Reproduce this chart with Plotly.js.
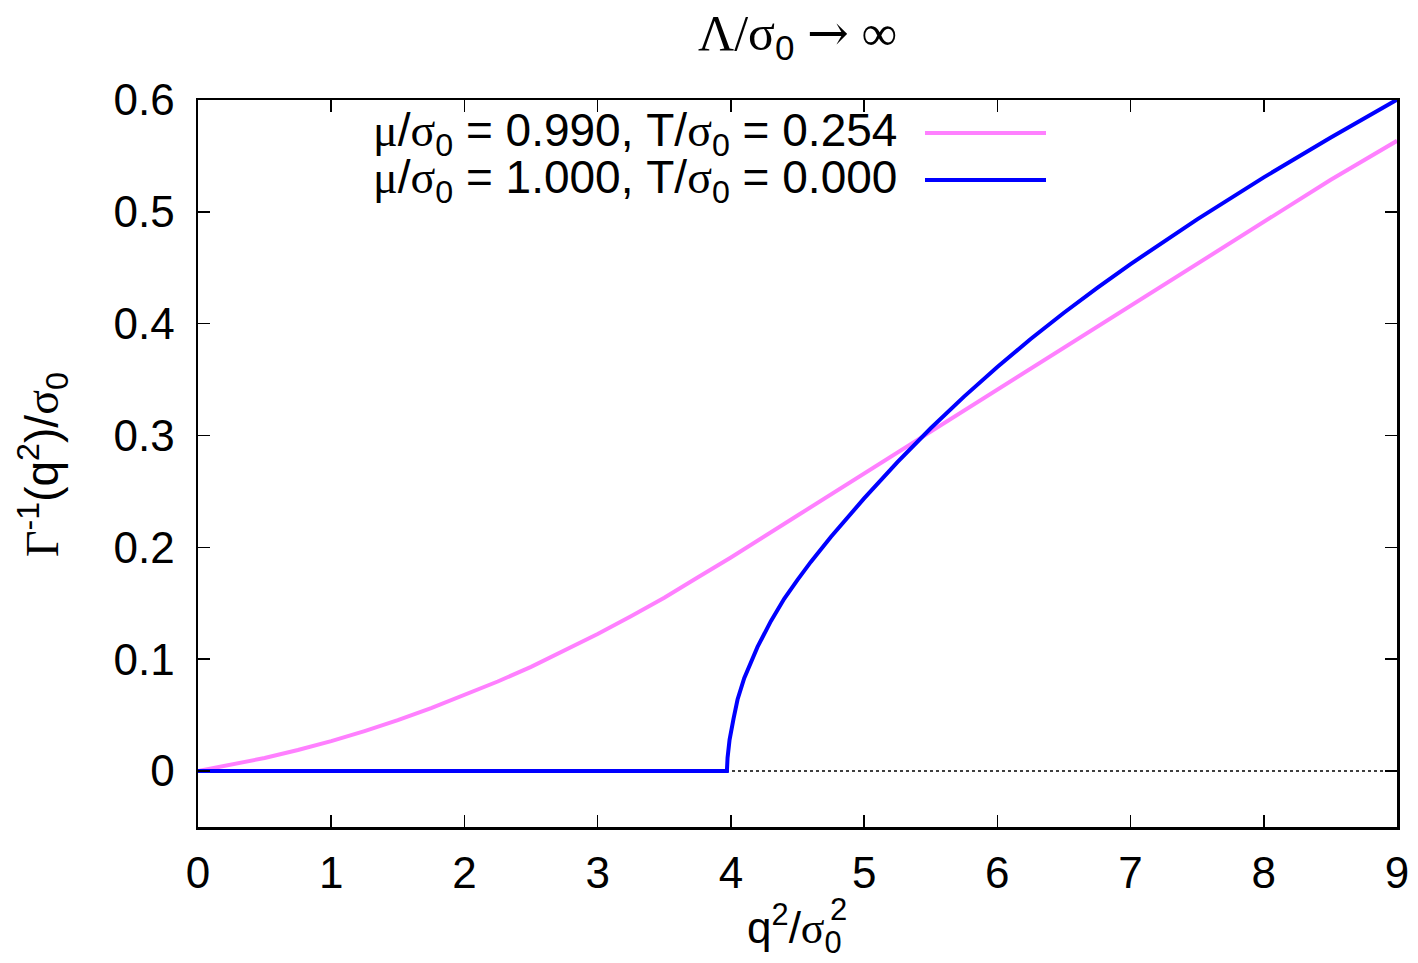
<!DOCTYPE html>
<html>
<head>
<meta charset="utf-8">
<script src="https://cdn.plot.ly/plotly-3.0.1.min.js"></script>
<style>html,body{margin:0;padding:0;background:#fff;}#chart{width:1418px;height:963px;}</style>
</head>
<body>
<div id="chart"></div>
<script>
// Series: mu/sigma0 = 0.990, T/sigma0 = 0.254 (pink)
const pinkX = [0, 0.25, 0.5, 0.75, 1.0, 1.25, 1.5, 1.75, 2.0, 2.25, 2.5, 2.75, 3.0, 3.25, 3.5, 3.75, 4.0, 4.5, 5.0, 5.5, 6.0, 6.5, 7.0, 7.5, 8.0, 8.5, 9.0];
const pinkY = [0, 0.0054, 0.0117, 0.0188, 0.0268, 0.0358, 0.0455, 0.0562, 0.0677, 0.0801, 0.0932, 0.1076, 0.1226, 0.1385, 0.155, 0.173, 0.191, 0.2285, 0.266, 0.3035, 0.341, 0.3785, 0.416, 0.4535, 0.491, 0.5285, 0.5635];
// Series: mu/sigma0 = 1.000, T/sigma0 = 0.000 (blue)
const blueX = [0, 3.97, 3.975, 3.99, 4.02, 4.05, 4.1, 4.15, 4.2, 4.3, 4.4, 4.5, 4.6, 4.75, 5.0, 5.25, 5.5, 5.75, 6.0, 6.25, 6.5, 6.75, 7.0, 7.5, 8.0, 8.5, 9.0];
const blueY = [0, 0, 0.012, 0.028, 0.047, 0.064, 0.083, 0.098, 0.111, 0.134, 0.154, 0.171, 0.187, 0.2093, 0.2438, 0.2763, 0.3065, 0.3348, 0.3613, 0.3863, 0.4098, 0.432, 0.4533, 0.4933, 0.5308, 0.5663, 0.6003];
// zero reference line
const zeroX = [0, 9];
const zeroY = [0, 0];
const xTicks = [0, 1, 2, 3, 4, 5, 6, 7, 8, 9];
const yTicks = [0, 0.1, 0.2, 0.3, 0.4, 0.5, 0.6];
const yTickText = ['0', '0.1', '0.2', '0.3', '0.4', '0.5', '0.6'];
const G = s => '<span style="font-family:Liberation Serif">' + s + '</span>';
const seriesNames = [
  G('μ') + '/' + G('σ') + '<sub>0</sub> = 0.990, T/' + G('σ') + '<sub>0</sub> = 0.254',
  G('μ') + '/' + G('σ') + '<sub>0</sub> = 1.000, T/' + G('σ') + '<sub>0</sub> = 0.000'
];
const pinkColor = '#ff80ff';
const blueColor = '#0000ff';

const sans = 'Liberation Sans, Arial, sans-serif';
const serif = 'Liberation Serif, Times New Roman, serif';
const FS = 44;

const traces = [
  {x: zeroX, y: zeroY, mode: 'lines', line: {color: '#000', width: 1.5, dash: 'dot'}, showlegend: false, hoverinfo: 'skip'},
  {x: pinkX, y: pinkY, mode: 'lines', line: {color: pinkColor, width: 4}, showlegend: false},
  {x: blueX, y: blueY, mode: 'lines', line: {color: blueColor, width: 4}, showlegend: false}
];

const axisCommon = {
  showline: true, linecolor: '#000', linewidth: 2.5, mirror: 'ticks',
  ticks: 'inside', ticklen: 12, tickwidth: 1.5, tickcolor: '#000',
  showgrid: false, zeroline: false,
  tickfont: {family: sans, size: FS, color: '#000'}
};

const px = v => (v - 198) / 1199;   // pixel x -> paper
const py = v => (827 - v) / 727;    // pixel y -> paper

const layout = {
  width: 1418, height: 963,
  margin: {l: 198, r: 21, t: 100, b: 136},
  paper_bgcolor: '#fff', plot_bgcolor: '#fff',
  title: {
    text: 'Λ/σ<sub><span style="font-family:Liberation Sans">0</span></sub> <span style="font-family:DejaVu Serif">→</span> ∞',
    font: {family: serif, size: 50, color: '#000'},
    x: 0.5, xref: 'paper', xanchor: 'center',
    y: 1 - 32 / 963, yref: 'container', yanchor: 'middle'
  },
  xaxis: Object.assign({}, axisCommon, {
    range: [0, 9], tickvals: xTicks, ticktext: xTicks.map(String), ticklabelstandoff: 6
  }),
  yaxis: Object.assign({}, axisCommon, {
    range: [-0.05, 0.6], tickvals: yTicks, ticktext: yTickText, ticklabelstandoff: 12
  }),
  showlegend: false,
  annotations: [
    {xref: 'paper', yref: 'paper', x: px(42), y: py(464), xanchor: 'center', yanchor: 'middle',
     textangle: -90, showarrow: false,
     text: '<span style="font-family:Liberation Serif">Γ</span><sup>-1</sup>(q<sup>2</sup>)/' + G('σ') + '<sub>0</sub>',
     font: {family: sans, size: 46, color: '#000'}},
    {xref: 'paper', yref: 'paper', x: px(745), y: py(928), xanchor: 'left', yanchor: 'middle',
     showarrow: false,
     text: 'q<sup>2</sup>/' + G('σ') + '<sub>0</sub>',
     font: {family: sans, size: FS, color: '#000'}},
    {xref: 'paper', yref: 'paper', x: px(838), y: py(909), xanchor: 'center', yanchor: 'middle',
     showarrow: false, text: '2',
     font: {family: sans, size: Math.round(FS * 0.7), color: '#000'}},
    {xref: 'paper', yref: 'paper', x: px(899), y: py(134), xanchor: 'right', yanchor: 'middle',
     showarrow: false, text: seriesNames[0], font: {family: sans, size: 46, color: '#000'}},
    {xref: 'paper', yref: 'paper', x: px(899), y: py(181), xanchor: 'right', yanchor: 'middle',
     showarrow: false, text: seriesNames[1], font: {family: sans, size: 46, color: '#000'}}
  ],
  shapes: [
    {type: 'line', xref: 'paper', yref: 'paper', x0: px(925), x1: px(1046),
     y0: py(133), y1: py(133), line: {color: pinkColor, width: 4}},
    {type: 'line', xref: 'paper', yref: 'paper', x0: px(925), x1: px(1046),
     y0: py(180), y1: py(180), line: {color: blueColor, width: 4}}
  ]
};

Plotly.newPlot('chart', traces, layout, {displayModeBar: false, staticPlot: true});
</script>
</body>
</html>
